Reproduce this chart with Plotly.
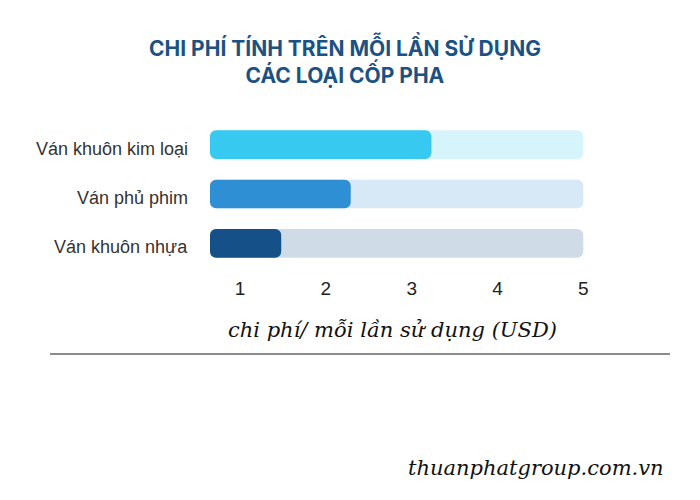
import plotly.graph_objects as go

# ---- data ----
categories = ["Ván khuôn kim loại", "Ván phủ phim", "Ván khuôn nhựa"]
cost_per_use = [3.23, 2.29, 1.48]
scale_min = 0.65
scale_max = 5.0
tick_values = [1, 2, 3, 4, 5]
tick_labels = ["1", "2", "3", "4", "5"]

bar_colors = ["#38C9F0", "#2E8FD5", "#155089"]
track_colors = ["#D6F4FC", "#D7E8F6", "#CFDBE7"]

title_lines = ["CHI PHÍ TÍNH TRÊN MỖI LẦN SỬ DỤNG", "CÁC LOẠI CỐP PHA"]
x_title = "chi phí/ mỗi lần sử dụng (USD)"
footer = "thuanphatgroup.com.vn"

fig = go.Figure()

fig.add_trace(go.Bar(
    y=categories,
    x=[scale_max - scale_min] * len(categories),
    base=scale_min,
    orientation="h",
    marker=dict(color=track_colors, line=dict(width=0)),
    width=0.58,
    hoverinfo="skip",
    showlegend=False,
))
fig.add_trace(go.Bar(
    y=categories,
    x=[v - scale_min for v in cost_per_use],
    base=scale_min,
    orientation="h",
    marker=dict(color=bar_colors, line=dict(width=0)),
    width=0.58,
    customdata=cost_per_use,
    hovertemplate="%{y}: %{customdata} USD<extra></extra>",
    showlegend=False,
))

label_annotations = [
    dict(
        text=cat, xref="paper", yref="y", x=0, y=cat,
        xanchor="right", yanchor="middle", xshift=-20, yshift=-4,
        showarrow=False,
        font=dict(family="Liberation Sans, Arial, sans-serif", size=18, color="#333333"),
    )
    for cat in categories
]

fig.update_layout(
    width=700,
    height=500,
    barmode="overlay",
    barcornerradius=6,
    paper_bgcolor="white",
    plot_bgcolor="white",
    margin=dict(l=210, r=115, t=120, b=232),
    xaxis=dict(
        range=[scale_min, scale_max + 0.02],
        tickvals=tick_values,
        ticktext=tick_labels,
        showgrid=False,
        zeroline=False,
        showline=False,
        ticks="outside",
        ticklen=3,
        tickcolor="rgba(0,0,0,0)",
        tickfont=dict(family="Liberation Sans, Arial, sans-serif", size=19, color="#222222"),
        fixedrange=True,
    ),
    yaxis=dict(
        categoryorder="array",
        categoryarray=categories[::-1],
        showgrid=False,
        zeroline=False,
        showline=False,
        showticklabels=False,
        fixedrange=True,
    ),
    annotations=label_annotations + [
        dict(
            text="<b>" + title_lines[0] + "</b><br><b>" + title_lines[1] + "</b>",
            xref="paper", yref="paper", x=(345 - 210) / 375, y=1 + (120 - 60) / 148,
            xanchor="center", yanchor="middle", showarrow=False,
            font=dict(family="Inter, Open Sans, sans-serif", size=21, color="#1C5283"),
            align="center",
        ),
        dict(
            text="<i>" + x_title + "</i>",
            xref="paper", yref="paper", x=(392 - 210) / 375, y=-(330 - 268) / 148,
            xanchor="center", yanchor="middle", showarrow=False,
            font=dict(family="DejaVu Serif, serif", size=21, color="#111111"),
        ),
        dict(
            text="<i>" + footer + "</i>",
            xref="paper", yref="paper", x=(666 - 210) / 375, y=-(468 - 268) / 148,
            xanchor="right", yanchor="middle", showarrow=False,
            font=dict(family="DejaVu Serif, serif", size=21, color="#111111"),
        ),
    ],
    shapes=[
        dict(type="line", xref="paper", yref="paper",
             x0=(50 - 210) / 375, x1=(670 - 210) / 375,
             y0=-(354 - 268) / 148, y1=-(354 - 268) / 148,
             line=dict(color="#666666", width=1.5)),
    ],
)

fig.write_html(
    "out.html",
    config={"displayModeBar": False},
    post_script="document.body.style.margin='0';",
)
